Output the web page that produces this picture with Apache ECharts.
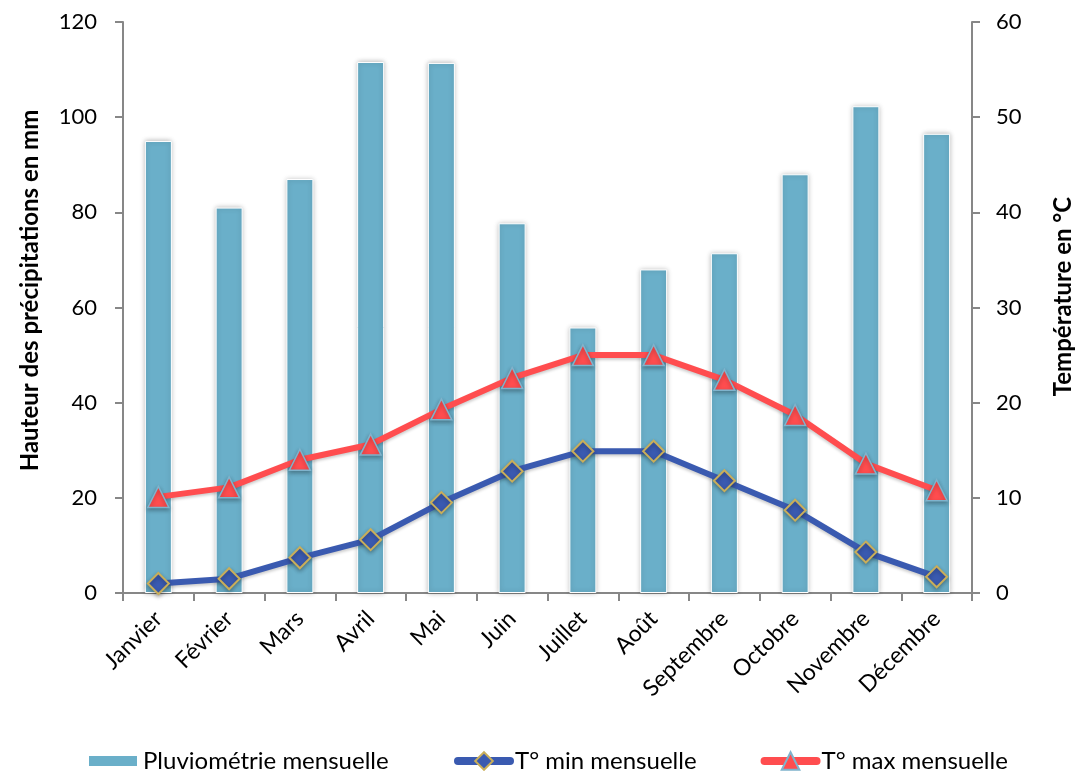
<!DOCTYPE html>
<html>
<head>
<meta charset="utf-8">
<script src="https://cdn.jsdelivr.net/npm/echarts@6/dist/echarts.min.js"></script>
<style>
  html, body { margin: 0; padding: 0; background: #ffffff; }
  #chart { width: 1090px; height: 771px; }
</style>
</head>
<body>
<div id="chart"></div>
<script>
// Monthly climate data
const months = ['Janvier', 'Février', 'Mars', 'Avril', 'Mai', 'Juin', 'Juillet', 'Août', 'Septembre', 'Octobre', 'Novembre', 'Décembre'];
const rainfall = [95, 81, 87, 111.6, 111.4, 77.7, 55.8, 68, 71.4, 88, 102.3, 96.5];
const tMin = [1.0, 1.5, 3.7, 5.6, 9.5, 12.8, 14.9, 14.9, 11.8, 8.7, 4.3, 1.7];
const tMax = [10.1, 11.1, 14.0, 15.6, 19.3, 22.6, 25.0, 25.0, 22.4, 18.7, 13.6, 10.8];
const rainTicks = [0, 20, 40, 60, 80, 100, 120];
const tempTicks = [0, 10, 20, 30, 40, 50, 60];

const FONT = 'Lato, "Open Sans", sans-serif';
const axisGray = '#878787';
const blue = '#3A5AB0';
const red = '#FF4D4F';

const chart = echarts.init(document.getElementById('chart'), null, { renderer: 'canvas' });

const yAxisCommon = {
  type: 'value',
  axisLine: { show: true, lineStyle: { color: axisGray, width: 2 } },
  axisTick: { show: true, length: 8, lineStyle: { color: axisGray, width: 2 } },
  splitLine: { show: false },
  axisLabel: { color: '#000', fontFamily: FONT, fontSize: 22 },
  nameLocation: 'middle'
};
const nameStyle = { color: '#000', fontFamily: FONT, fontSize: 24, fontWeight: 'bold' };
const legendText = { color: '#000', fontFamily: FONT, fontSize: 24 };

chart.setOption({
  animation: false,
  backgroundColor: '#ffffff',
  grid: { left: 123, right: 118, top: 22, bottom: 178, containLabel: false },
  legend: [
    {
      top: 744,
      left: 82,
      itemWidth: 50,
      itemHeight: 12,
      textStyle: legendText,
      data: [{ name: 'Pluviométrie mensuelle', icon: 'rect' }]
    },
    {
      top: 744,
      left: 449,
      itemGap: 64,
      itemWidth: 52,
      itemHeight: 22,
      textStyle: legendText,
      data: [
        { name: 'T° min mensuelle', lineStyle: { width: 8, cap: 'round' } },
        { name: 'T° max mensuelle', lineStyle: { width: 8, cap: 'round' } }
      ]
    }
  ],
  xAxis: {
    type: 'category',
    data: months,
    axisLine: { show: true, lineStyle: { color: axisGray, width: 2 } },
    axisTick: { show: true, length: 8, lineStyle: { color: axisGray, width: 2 } },
    axisLabel: { color: '#000', fontFamily: FONT, fontSize: 23, rotate: 45, margin: 22, interval: 0 }
  },
  yAxis: [
    Object.assign({}, yAxisCommon, {
      name: 'Hauteur des précipitations en mm',
      nameGap: 81,
      nameTextStyle: Object.assign({}, nameStyle, { padding: [0, 0, 0, 34] }),
      min: rainTicks[0], max: rainTicks[rainTicks.length - 1], interval: 20,
      position: 'left',
      axisLabel: Object.assign({}, yAxisCommon.axisLabel, { margin: 26 })
    }),
    Object.assign({}, yAxisCommon, {
      name: 'Température en °C',
      nameGap: 79,
      nameRotate: 90,
      nameTextStyle: Object.assign({}, nameStyle, { padding: [0, 0, 0, 22] }),
      min: tempTicks[0], max: tempTicks[tempTicks.length - 1], interval: 10,
      position: 'right',
      axisLabel: Object.assign({}, yAxisCommon.axisLabel, { margin: 24 })
    })
  ],
  series: [
    {
      name: 'Pluviométrie mensuelle',
      type: 'bar',
      yAxisIndex: 0,
      data: rainfall,
      barWidth: 27,
      itemStyle: {
        color: '#6AAFC9',
        borderColor: '#ffffff',
        borderWidth: 1,
        shadowColor: 'rgba(0,0,0,0.28)',
        shadowBlur: 5
      },
      z: 1
    },
    {
      name: 'T° min mensuelle',
      type: 'line',
      yAxisIndex: 1,
      data: tMin,
      symbol: 'diamond',
      symbolSize: 21,
      lineStyle: { color: blue, width: 6, shadowColor: 'rgba(0,0,0,0.2)', shadowBlur: 3, shadowOffsetY: 2 },
      itemStyle: {
        color: blue,
        borderColor: '#C9AE5A',
        borderWidth: 2,
        shadowColor: 'rgba(0,0,0,0.3)',
        shadowBlur: 4,
        shadowOffsetY: 2
      },
      z: 3
    },
    {
      name: 'T° max mensuelle',
      type: 'line',
      yAxisIndex: 1,
      data: tMax,
      symbol: 'triangle',
      symbolSize: 21,
      lineStyle: { color: red, width: 6, shadowColor: 'rgba(0,0,0,0.2)', shadowBlur: 3, shadowOffsetY: 2 },
      itemStyle: {
        color: red,
        borderColor: '#7FB3CC',
        borderWidth: 1.5,
        shadowColor: 'rgba(0,0,0,0.3)',
        shadowBlur: 4,
        shadowOffsetY: 2
      },
      z: 3
    }
  ]
});
</script>
</body>
</html>
